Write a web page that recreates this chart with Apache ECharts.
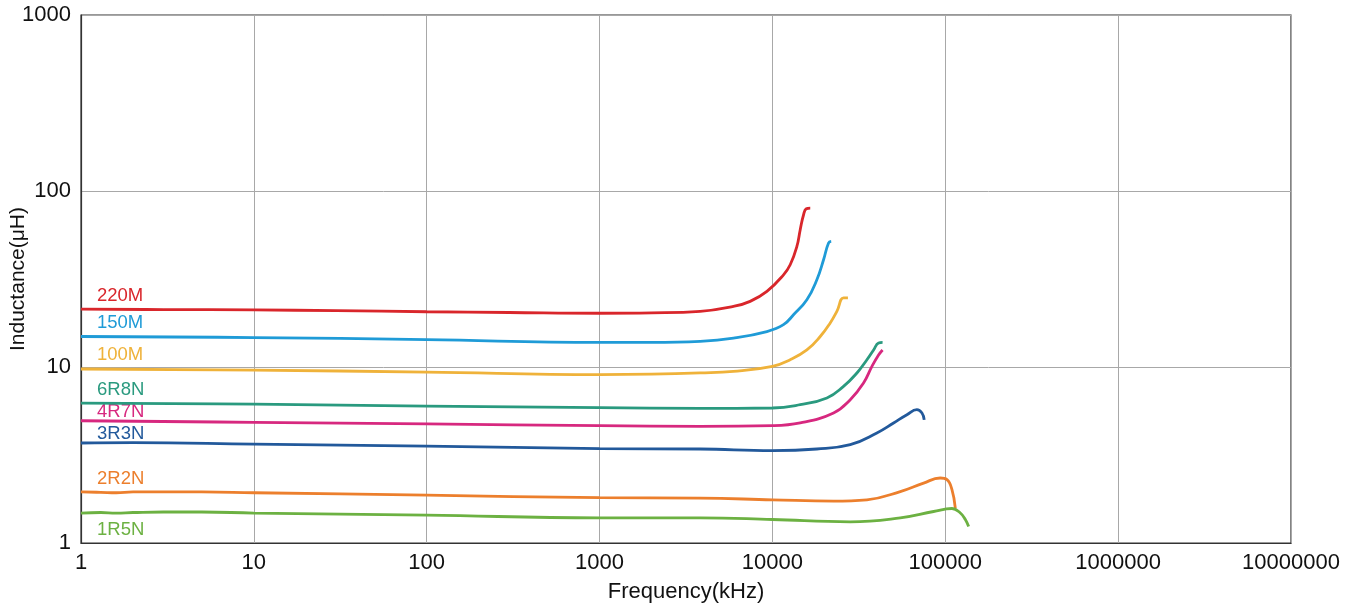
<!DOCTYPE html>
<html>
<head>
<meta charset="utf-8">
<script src="https://cdn.jsdelivr.net/npm/echarts@6/dist/echarts.min.js"></script>
<style>
html,body{margin:0;padding:0;background:#fff;}
#chart{width:1357px;height:609px;}
</style>
</head>
<body>
<div id="chart"></div>
<script>
const xTicks = [1, 10, 100, 1000, 10000, 100000, 1000000, 10000000];
const yTicks = [1, 10, 100, 1000];

const seriesNames = ['220M', '150M', '100M', '6R8N', '4R7N', '3R3N', '2R2N', '1R5N'];

const f220M = [1, 3, 10, 30, 100, 300, 1000, 2000, 3820, 5956, 7430, 9290, 11590, 12670, 13850, 14480, 15140, 15700, 16550];
const L220M = [21.3, 21.2, 21.1, 20.9, 20.6, 20.4, 20.2, 20.3, 20.7, 22.1, 23.6, 26.9, 33.4, 38.1, 48.4, 60.3, 73.3, 79.3, 80.0];

const f150M = [1, 10, 100, 1000, 2000, 3820, 5956, 9290, 11590, 13240, 15820, 18070, 19760, 21120, 21880];
const L150M = [14.9, 14.7, 14.3, 13.8, 13.8, 14.0, 14.6, 15.9, 17.4, 19.8, 24.1, 31.3, 40.7, 50.7, 51.7];

const f100M = [1, 10, 100, 1000, 2000, 3820, 5956, 10000, 12670, 15820, 18900, 21590, 23590, 25780, 27340];
const L100M = [9.74, 9.6, 9.35, 9.05, 9.1, 9.25, 9.44, 10.08, 11.0, 12.5, 14.9, 17.8, 20.7, 24.7, 24.7];

const f6R8N = [1, 10, 100, 1000, 3820, 10000, 14480, 20660, 25780, 30820, 35210, 38480, 41120, 43370];
const L6R8N = [6.24, 6.15, 6.0, 5.87, 5.82, 5.85, 6.11, 6.67, 7.76, 9.25, 11.0, 12.5, 13.7, 13.8];

const f4R7N = [1, 10, 100, 1000, 3820, 10000, 14480, 22570, 28200, 33650, 37640, 41120, 43370];
const L4R7N = [4.95, 4.85, 4.75, 4.64, 4.60, 4.64, 4.81, 5.48, 6.52, 8.11, 10.08, 11.7, 12.5];

const f3R3N = [1, 2, 10, 100, 1000, 3820, 10000, 18070, 28200, 40200, 50200, 60000, 68500, 73300, 75500];
const L3R3N = [3.70, 3.72, 3.65, 3.55, 3.44, 3.42, 3.35, 3.42, 3.62, 4.22, 4.81, 5.36, 5.72, 5.48, 5.01];

const f2R2N = [1, 1.3, 1.6, 2, 3, 5, 10, 100, 1000, 3820, 10000, 22570, 35210, 54900, 74900, 93500, 102300, 109300, 114300];
const L2R2N = [1.95, 1.94, 1.93, 1.95, 1.95, 1.95, 1.93, 1.87, 1.81, 1.80, 1.76, 1.73, 1.76, 1.96, 2.19, 2.34, 2.29, 2.01, 1.58];

const f1R5N = [1, 1.3, 1.6, 2, 3, 5, 10, 100, 1000, 3820, 10000, 28200, 54900, 85600, 109300, 122200, 130600, 136500];
const L1R5N = [1.48, 1.49, 1.48, 1.49, 1.50, 1.50, 1.48, 1.44, 1.39, 1.39, 1.36, 1.32, 1.39, 1.51, 1.57, 1.48, 1.36, 1.24];

const freqs = [f220M, f150M, f100M, f6R8N, f4R7N, f3R3N, f2R2N, f1R5N];
const values = [L220M, L150M, L100M, L6R8N, L4R7N, L3R3N, L2R2N, L1R5N];

const colors = ['#d9262b', '#1f9bd7', '#efb23a', '#2a9a7f', '#d7287f', '#22599b', '#ec7f2d', '#6cb142'];
const labelTops = [296.7, 323.3, 355, 390, 412.7, 434, 479.3, 530];

const FONT = '"Liberation Sans", Arial, Helvetica, sans-serif';

const chart = echarts.init(document.getElementById('chart'), null, {renderer: 'canvas'});

const series = seriesNames.map((name, i) => ({
  name: name,
  type: 'line',
  data: freqs[i].map((f, j) => [f, values[i][j]]),
  showSymbol: false,
  smooth: 0.45,
  lineStyle: {color: colors[i], width: 2.8},
  itemStyle: {color: colors[i]},
  animation: false,
  z: 3
}));

const graphics = seriesNames.map((name, i) => ({
  type: 'text',
  left: 97,
  top: labelTops[i] - 10,
  style: {text: name, fill: colors[i], font: '18.5px ' + FONT}
}));

chart.setOption({
  backgroundColor: '#fff',
  animation: false,
  grid: {left: 81, right: 66, top: 15, bottom: 66, containLabel: false, outerBoundsMode: 'none',
    show: true, borderColor: '#333', borderWidth: 1.2},
  xAxis: {
    type: 'log', logBase: 10, min: xTicks[0], max: xTicks[xTicks.length - 1],
    name: 'Frequency(kHz)', nameLocation: 'middle', nameGap: 38, nameMoveOverlap: false,
    nameTextStyle: {fontSize: 22, color: '#111', fontFamily: FONT},
    axisLine: {lineStyle: {color: '#333', width: 1.2}},
    axisTick: {show: false},
    axisLabel: {fontSize: 22, color: '#111', fontFamily: FONT, margin: 9,
      formatter: v => String(Math.round(v))},
    splitLine: {show: true, lineStyle: {color: '#a8a8a8', width: 1}}
  },
  yAxis: {
    type: 'log', logBase: 10, min: yTicks[0], max: yTicks[yTicks.length - 1],
    name: 'Inductance(μH)', nameLocation: 'middle', nameGap: 52, nameRotate: 90,
    nameMoveOverlap: false,
    nameTextStyle: {fontSize: 21, color: '#111', fontFamily: FONT},
    axisLine: {lineStyle: {color: '#333', width: 1.2}},
    axisTick: {show: false},
    axisLabel: {fontSize: 22, color: '#111', fontFamily: FONT, margin: 10,
      formatter: v => String(Math.round(v))},
    splitLine: {show: true, lineStyle: {color: '#a8a8a8', width: 1}}
  },
  graphic: graphics,
  series: series
});
</script>
</body>
</html>
